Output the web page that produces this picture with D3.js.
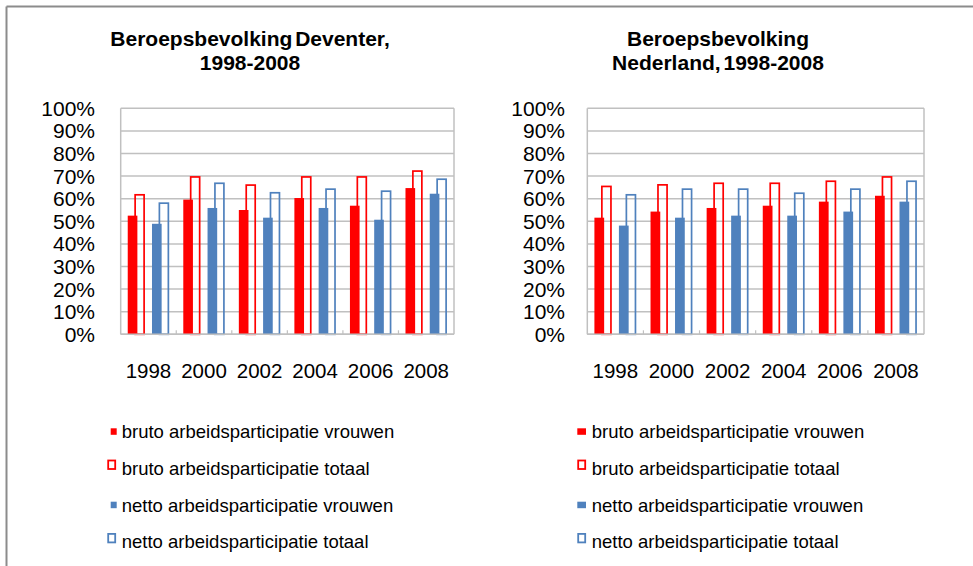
<!DOCTYPE html>
<html>
<head>
<meta charset="utf-8">
<script src="https://cdn.jsdelivr.net/npm/d3@7"></script>
<style>
  html, body { margin: 0; padding: 0; background: #fff; }
  svg { display: block; font-family: "Liberation Sans", Arial, sans-serif; }
</style>
</head>
<body>
<svg id="chart" width="973" height="566"></svg>
<script>
// data (percentages)
const years = ["1998", "2000", "2002", "2004", "2006", "2008"];
const yTicks = [0, 10, 20, 30, 40, 50, 60, 70, 80, 90, 100];
const seriesNames = [
  "bruto arbeidsparticipatie vrouwen",
  "bruto arbeidsparticipatie totaal",
  "netto arbeidsparticipatie vrouwen",
  "netto arbeidsparticipatie totaal"
];

const deventerBrutoVrouwen = [52.5, 59.6, 55.0, 60.3, 56.9, 64.7];
const deventerBrutoTotaal  = [62.1, 70.0, 66.4, 70.0, 70.0, 72.6];
const deventerNettoVrouwen = [48.9, 55.9, 51.6, 55.9, 50.7, 62.2];
const deventerNettoTotaal  = [58.4, 67.2, 63.0, 64.6, 63.7, 69.0];

const nederlandBrutoVrouwen = [51.6, 54.3, 55.9, 56.9, 58.7, 61.3];
const nederlandBrutoTotaal  = [65.8, 66.5, 67.2, 67.2, 68.1, 70.0];
const nederlandNettoVrouwen = [48.1, 51.6, 52.5, 52.5, 54.3, 58.7];
const nederlandNettoTotaal  = [62.1, 64.6, 64.6, 62.8, 64.6, 68.1];

const RED = "#ff0000";
const BLUE = "#4f81bd";
const GRID = "#c0c0c0";

const svg = d3.select("#chart");

// outer frame (only top and left edges visible)
svg.append("line")
  .attr("x1", 6.5).attr("x2", 973).attr("y1", 6.5).attr("y2", 6.5)
  .attr("stroke", "#8c8c8c").attr("stroke-width", 2);
svg.append("line")
  .attr("x1", 6.5).attr("x2", 6.5).attr("y1", 6.5).attr("y2", 566)
  .attr("stroke", "#8c8c8c").attr("stroke-width", 2);

function drawChart(cfg) {
  const g = svg.append("g");

  const y = d3.scaleLinear().domain([0, 100]).range([334.3, 108.3]);
  const x0 = d3.scaleBand().domain(years).range([cfg.left, cfg.right]);
  const x1 = d3.scaleBand().domain(["bruto", "netto"])
    .range([0, x0.bandwidth()])
    .paddingInner(0.29).paddingOuter(0.29);
  const gw = x1.bandwidth();

  // gridlines
  g.selectAll("line.grid")
    .data(yTicks)
    .join("line")
    .attr("class", "grid")
    .attr("x1", cfg.left).attr("x2", cfg.right)
    .attr("y1", d => y(d)).attr("y2", d => y(d))
    .attr("stroke", GRID).attr("stroke-width", 1.5);

  // plot frame left / right
  g.append("line")
    .attr("x1", cfg.left).attr("x2", cfg.left)
    .attr("y1", y(100)).attr("y2", y(0))
    .attr("stroke", GRID).attr("stroke-width", 1.5);
  g.append("line")
    .attr("x1", cfg.right).attr("x2", cfg.right)
    .attr("y1", y(100)).attr("y2", y(0))
    .attr("stroke", GRID).attr("stroke-width", 1.5);

  // small category separators on the bottom axis
  g.selectAll("line.sep")
    .data(years.slice(1))
    .join("line")
    .attr("class", "sep")
    .attr("x1", d => x0(d)).attr("x2", d => x0(d))
    .attr("y1", y(0) - 4).attr("y2", y(0))
    .attr("stroke", GRID).attr("stroke-width", 1.2);

  // y tick labels
  g.selectAll("text.ytick")
    .data(yTicks)
    .join("text")
    .attr("class", "ytick")
    .attr("x", cfg.labelX)
    .attr("y", d => y(d))
    .attr("dy", "0.36em")
    .attr("text-anchor", "end")
    .style("font-size", "21px")
    .attr("fill", "#000")
    .text(d => d + "%");

  // x labels
  g.selectAll("text.xtick")
    .data(years)
    .join("text")
    .attr("class", "xtick")
    .attr("x", d => x0(d) + x0.bandwidth() / 2)
    .attr("y", 378)
    .attr("text-anchor", "middle")
    .style("font-size", "20.5px")
    .attr("fill", "#000")
    .text(d => d);

  const rows = years.map((yr, i) => ({
    year: yr,
    groups: [
      { key: "bruto", filled: cfg.data[0][i], outline: cfg.data[1][i], color: RED },
      { key: "netto", filled: cfg.data[2][i], outline: cfg.data[3][i], color: BLUE }
    ]
  }));
  const flat = rows.flatMap(r => r.groups.map(gr => ({ ...gr, year: r.year })));

  const filledW = gw * 0.56;
  const outlineStart = gw * 0.38;
  const sw = 1.7;

  // outline (totaal) bars
  g.selectAll("rect.outline")
    .data(flat)
    .join("rect")
    .attr("class", "outline")
    .attr("x", d => x0(d.year) + x1(d.key) + outlineStart + sw / 2)
    .attr("width", gw - outlineStart - sw)
    .attr("y", d => y(d.outline) + sw / 2)
    .attr("height", d => y(0) - y(d.outline) - sw / 2)
    .attr("fill", "none")
    .attr("stroke", d => d.color)
    .attr("stroke-width", sw);

  // filled (vrouwen) bars
  g.selectAll("rect.filled")
    .data(flat)
    .join("rect")
    .attr("class", "filled")
    .attr("x", d => x0(d.year) + x1(d.key))
    .attr("width", filledW)
    .attr("y", d => y(d.filled))
    .attr("height", d => y(0) - y(d.filled))
    .attr("fill", d => d.color);

  // bottom axis line
  g.append("line")
    .attr("x1", cfg.left).attr("x2", cfg.right)
    .attr("y1", y(0)).attr("y2", y(0))
    .attr("stroke", GRID).attr("stroke-width", 1.5);

  // title
  g.selectAll("text.title")
    .data(cfg.title)
    .join("text")
    .attr("class", "title")
    .attr("x", cfg.titleX)
    .attr("y", (d, i) => 46 + i * 23.6)
    .attr("text-anchor", "middle")
    .style("font-size", "21px")
    .style("font-weight", "bold")
    .style("word-spacing", "-3px")
    .attr("fill", "#000")
    .text(d => d);

  // legend
  const leg = g.selectAll("g.leg")
    .data(seriesNames)
    .join("g")
    .attr("class", "leg")
    .attr("transform", (d, i) => `translate(0, ${438.3 + i * 36.7})`);

  leg.filter((d, i) => i % 2 === 0)
    .append("rect")
    .attr("x", cfg.legFilledX)
    .attr("y", -10)
    .attr("width", cfg.legFilledW)
    .attr("height", 6.5)
    .attr("fill", (d, i) => i === 0 ? RED : BLUE);

  leg.filter((d, i) => i % 2 === 1)
    .append("rect")
    .attr("x", cfg.legOutlineX + 0.9)
    .attr("y", -14.5)
    .attr("width", 7)
    .attr("height", 8.5)
    .attr("fill", "none")
    .attr("stroke", (d, i) => i === 0 ? RED : BLUE)
    .attr("stroke-width", 1.8);

  leg.append("text")
    .attr("x", cfg.legTextX)
    .attr("y", 0)
    .style("font-size", "18.5px")
    .attr("fill", "#000")
    .text(d => d);
}

drawChart({
  left: 120.7, right: 454, labelX: 95, titleX: 250,
  title: ["Beroepsbevolking Deventer,", "1998-2008"],
  data: [deventerBrutoVrouwen, deventerBrutoTotaal, deventerNettoVrouwen, deventerNettoTotaal],
  legFilledX: 110.7, legFilledW: 6, legOutlineX: 107.3, legTextX: 121.7
});

drawChart({
  left: 587.3, right: 924, labelX: 565, titleX: 718,
  title: ["Beroepsbevolking", "Nederland, 1998-2008"],
  data: [nederlandBrutoVrouwen, nederlandBrutoTotaal, nederlandNettoVrouwen, nederlandNettoTotaal],
  legFilledX: 577.3, legFilledW: 8.7, legOutlineX: 577.3, legTextX: 591.7
});
</script>
</body>
</html>
